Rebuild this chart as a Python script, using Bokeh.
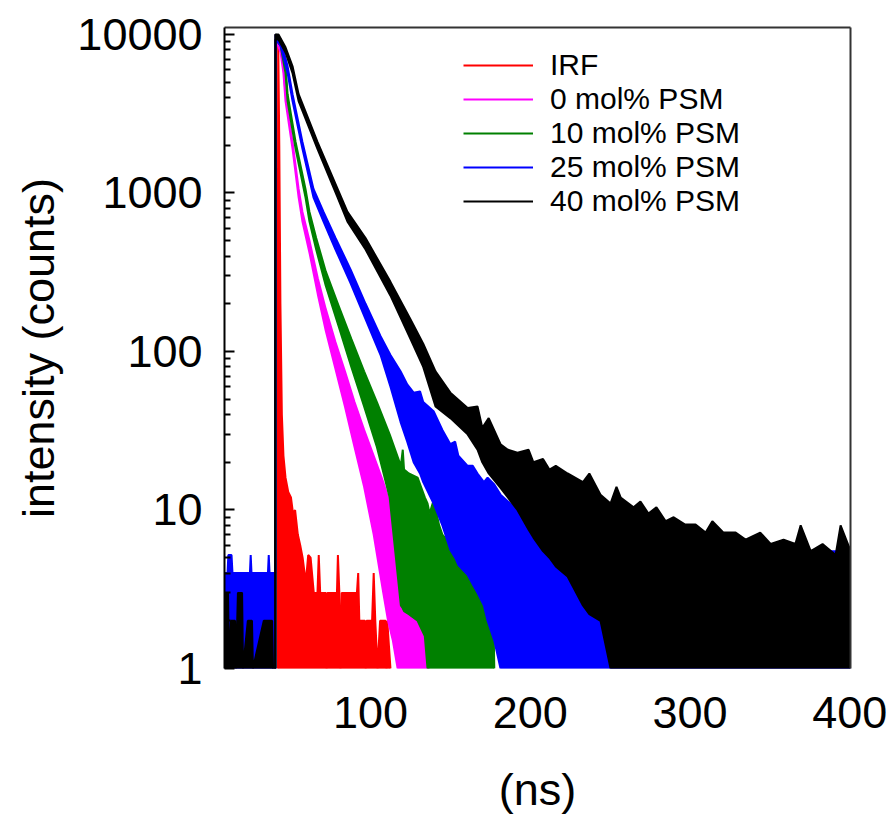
from bokeh.plotting import figure
from bokeh.models import Range1d, LinearAxis, LogAxis, Legend, LegendItem, FixedTicker, NumeralTickFormatter
from bokeh.embed import file_html
from bokeh.resources import INLINE

FONT = "Liberation Sans"

x_ticks = [100, 200, 300, 400]
y_ticks = [1, 10, 100, 1000, 10000]
y_minor = [m * 10 ** k for k in range(4) for m in range(2, 10)]

names = ["IRF", "0 mol% PSM", "10 mol% PSM", "25 mol% PSM", "40 mol% PSM"]
colors = ["#FF0000", "#FF00FF", "#008000", "#0000FF", "#000000"]

# IRF
irf_t = [41.8, 42.2, 42.9, 43.6, 44.5, 45.5, 46.8, 48.5, 50.2, 51.5, 52.8, 54.5, 56.0, 57.5, 59.5, 61.0,
         62.5, 64.5, 66.8, 67.6, 68.5, 72.0, 72.5, 73.0, 76.0, 79.0, 79.6, 80.5, 81.2, 82.0, 85.0,
         89.0, 91.5, 92.3, 93.0, 96.5, 97.0, 97.5, 101.0, 102.0, 103.0, 104.4, 106.0, 109.5, 110.0,
         110.5, 112.5]
irf_hi = [1, 10000, 2000, 200, 40, 22, 16, 13, 12, 9.5, 10, 7, 6, 5, 3.5, 5.2,
          5, 3, 3, 5.2, 3, 3, 1, 3, 3, 3, 5.2, 3, 1, 3, 3,
          3, 3, 4, 2, 2, 1, 2, 2, 4, 2, 1, 2, 2, 1,
          2, 1]
irf_lo = [1] * len(irf_t)

# 0 mol% PSM
mag_t = [40.5, 40.7, 43.7, 45.5, 46.8, 51.2, 55.0, 57.4, 62, 67, 72, 78, 84, 90, 96, 102, 108, 111,
         114, 117, 120, 124, 128, 132, 136, 136.5]
mag_hi = [1, 10000, 8300, 6300, 4200, 2100, 1060, 760, 490, 290, 185, 115, 75, 48, 32, 22, 15, 12,
          10, 8, 6, 5, 4, 3.5, 3, 1]
mag_lo = [1, 9300, 7700, 5700, 3800, 1900, 940, 660, 410, 230, 135, 78, 45, 25, 14, 7, 3, 2,
          1.5, 1, 1, 1, 1, 1, 1, 1]

# 10 mol% PSM
grn_t = [40.5, 40.7, 43.7, 46.8, 48.1, 53.1, 59.3, 61.8, 66, 72, 80, 88, 96, 104, 112, 119, 120.2,
         121, 124, 129.5, 134, 135.7, 137, 139.5, 143, 145, 150, 155, 161, 166, 171, 177, 177.5]
grn_hi = [1, 10000, 9300, 6300, 4200, 2100, 1060, 760, 520, 320, 195, 120, 75, 48, 30, 19, 24,
          18, 17, 16, 12, 11, 9.5, 11.5, 8, 7, 6.1, 6, 5, 4, 3.5, 2, 1]
grn_lo = [1, 9300, 8500, 5700, 3800, 1900, 940, 660, 440, 260, 145, 80, 45, 25, 12, 2.5, 2.4,
          2.3, 2.2, 2.0, 1.6, 1, 1, 1, 1, 1, 1, 1, 1, 1, 1, 1, 1]

# 25 mol% PSM
blu_t = [8.6, 10.5, 11.0, 13.0, 13.6, 18, 24.5, 25.0, 25.5, 30, 35.8, 36.3, 36.8, 40.4, 40.6,
         43.7, 48.1, 51.2, 57.4, 64.3, 70.6, 78.1, 87.5, 96.9, 106.3, 112.5, 118.8, 123, 127, 131,
         133, 139.5, 145, 150, 153, 155, 160.8, 164, 167, 171, 173.3, 177.5, 181.4, 192, 212.7,
         234.7, 275, 320, 360, 400.6]
blu_hi = [4, 4, 5.2, 5.2, 4, 4, 4, 5.2, 4, 4, 4, 5.2, 4, 4, 10000,
          9300, 6300, 4200, 2100, 1060, 760, 520, 330, 200, 125, 95, 75, 62, 55, 56,
          48, 42, 32, 26, 27, 22, 19, 19, 17, 15, 16, 14.5, 12.5, 10, 9,
          7, 6.5, 6, 5.5, 5.5]
blu_lo = [1, 1, 1, 1, 1, 1, 1, 1, 1, 1, 1, 1, 1, 1, 9300,
          8500, 5700, 3800, 1900, 940, 660, 440, 270, 160, 95, 60, 36, 27, 20, 17,
          15, 11, 8, 5.6, 5, 4.5, 3.9, 3.4, 3, 2.5, 2, 1.5, 1, 1, 1,
          1, 1, 1, 1, 1]

# 40 mol% PSM
blk_t = [8.6, 9.4, 10.8, 11.4, 12.6, 15.2, 15.8, 17.0, 19.6, 20.2, 23.2, 25.8, 26.4, 33.2, 38.4, 39.0,
         40.3, 40.4, 40.6, 42.4, 46.8, 51.2, 55.0, 66.8, 79.4, 85.6, 96.9, 112.5, 125, 133, 140.7,
         150, 160.8, 167, 170, 174, 181.4, 186, 192, 199, 202, 208, 212, 216, 223.4, 233, 237, 244,
         250.3, 254, 256.6, 264.7, 269, 274, 279, 284.8, 289.8, 297, 303.5, 309.8, 314, 321, 328.6,
         334.8, 344, 350.5, 358.6, 366, 369.3, 375.6, 383, 391.2, 394.3, 400.6]
blk_hi = [1, 3, 3, 1, 2, 2, 1, 3, 3, 1, 2, 2, 1, 2, 2, 1,
          1, 10000, 10000, 10000, 8300, 6300, 4200, 2100, 1060, 760, 520, 275, 160, 112, 75,
          55, 44, 45, 33, 38, 26, 24, 23, 24, 20, 21, 18, 19, 17, 15, 17, 12.5,
          11, 14, 12, 10.4, 11.3, 9.5, 10.4, 8.5, 9, 8.1, 8.1, 7.2, 8.5, 7.2, 7.2,
          6.5, 7.2, 6.1, 6.5, 6.1, 8, 5.5, 6.1, 5.2, 8, 5.5]
blk_lo = [1, 1, 1, 1, 1, 1, 1, 1, 1, 1, 1, 1, 1, 1, 1, 1,
          1, 1, 9300, 9300, 7700, 5700, 3800, 1900, 940, 660, 440, 225, 120, 80, 45,
          38, 30, 24, 20, 17, 13.8, 12, 10, 7.5, 6.7, 5.5, 5, 4.4, 3.8, 2.5, 2.2, 2,
          1, 1, 1, 1, 1, 1, 1, 1, 1, 1, 1, 1, 1, 1, 1,
          1, 1, 1, 1, 1, 1, 1, 1, 1, 1, 1]

series = [(irf_t, irf_hi, irf_lo), (mag_t, mag_hi, mag_lo), (grn_t, grn_hi, grn_lo),
          (blu_t, blu_hi, blu_lo), (blk_t, blk_hi, blk_lo)]

p = figure(width=891, height=817, y_axis_type="log",
           x_range=Range1d(8.6, 400.5), y_range=Range1d(1, 11070),
           output_backend="svg", toolbar_location=None,
           min_border_left=224, min_border_right=41, min_border_top=27, min_border_bottom=145)
p.outline_line_color = None
p.xgrid.visible = False
p.ygrid.visible = False
p.background_fill_color = "white"

items = []
for (t, hi, lo), name, col in zip(series, names, colors):
    p.varea(x=t, y1=lo, y2=hi, fill_color=col)
    r = p.line(t, hi, line_color=col, line_width=2)
    p.line(t, lo, line_color=col, line_width=2)
    items.append(LegendItem(label=name, renderers=[r]))

# axes
xa = p.xaxis[0]
xa.ticker = FixedTicker(ticks=x_ticks)
xa.major_tick_in = 0
xa.major_tick_out = 0
xa.minor_tick_in = 0
xa.minor_tick_out = 0
xa.axis_line_color = None
xa.major_label_text_font = FONT
xa.major_label_text_font_size = "45px"
xa.major_label_text_color = "black"
xa.major_label_text_line_height = 1.0
xa.major_label_standoff = 28
xa.axis_label = "(ns)"
xa.axis_label_text_font = FONT
xa.axis_label_text_font_size = "45px"
xa.axis_label_text_font_style = "normal"
xa.axis_label_text_color = "black"
xa.axis_label_text_line_height = 1.0
xa.axis_label_standoff = 33

ya = p.yaxis[0]
ya.ticker = FixedTicker(ticks=y_ticks, minor_ticks=y_minor)
ya.formatter = NumeralTickFormatter(format="0")
ya.major_tick_in = 10
ya.major_tick_out = 0
ya.minor_tick_in = 6
ya.minor_tick_out = 0
ya.axis_line_width = 2
ya.major_tick_line_width = 2
ya.minor_tick_line_width = 2
ya.major_label_text_font = FONT
ya.major_label_text_font_size = "45px"
ya.major_label_text_color = "black"
ya.major_label_standoff = 22
ya.axis_label = "intensity (counts)"
ya.axis_label_text_font = FONT
ya.axis_label_text_font_size = "45px"
ya.axis_label_text_font_style = "normal"
ya.axis_label_text_color = "black"
ya.axis_label_standoff = 10

top = LinearAxis(ticker=FixedTicker(ticks=[]), major_tick_in=0, major_tick_out=0,
                 minor_tick_in=0, minor_tick_out=0, major_label_text_font_size="0px",
                 major_label_standoff=0, axis_line_width=2, axis_line_color="#333333")
right = LogAxis(ticker=FixedTicker(ticks=[]), major_tick_in=0, major_tick_out=0,
                minor_tick_in=0, minor_tick_out=0, major_label_text_font_size="0px",
                major_label_standoff=0, axis_line_width=2, axis_line_color="#333333")
p.add_layout(top, "above")
p.add_layout(right, "right")

legend = Legend(items=items, location=(239, 450))
legend.glyph_width = 70
legend.glyph_height = 34
legend.label_height = 34
legend.spacing = 0
legend.padding = 0
legend.margin = 0
legend.border_line_color = None
legend.background_fill_alpha = 0
legend.label_text_font = FONT
legend.label_text_font_size = "30px"
legend.label_text_color = "black"
legend.label_standoff = 17
p.add_layout(legend)

open("out.html", "w").write(file_html(p, INLINE))
